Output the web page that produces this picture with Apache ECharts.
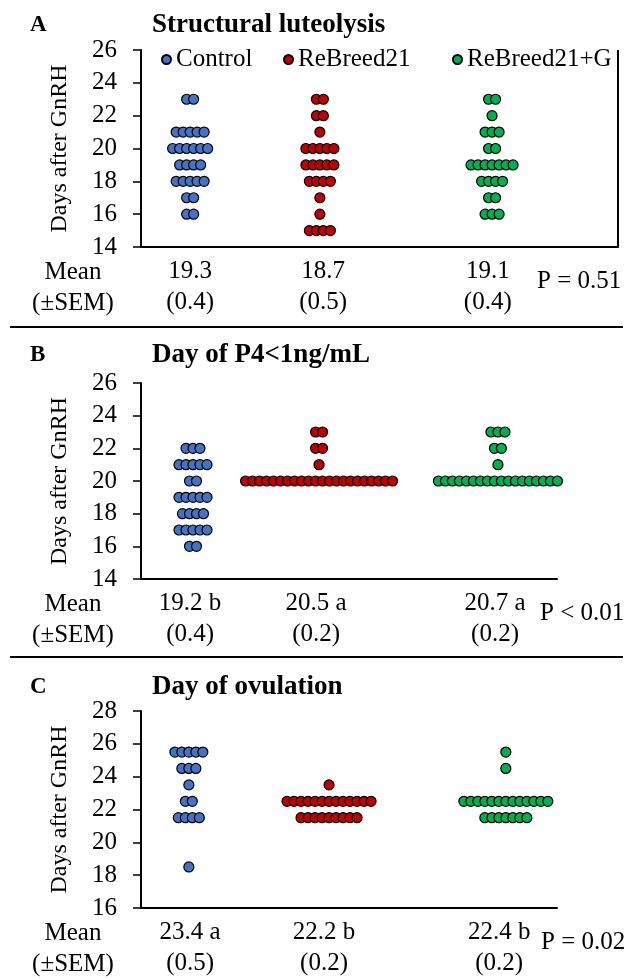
<!DOCTYPE html>
<html lang="en" style="height: 100%">
<head>
  <meta charset="utf-8">
</head>
<body style="height: 100%; margin: 0; background: #fff">
  <div id="container" style="width: 633px; height: 980px"></div>

  <script src="https://cdn.jsdelivr.net/npm/echarts@6/dist/echarts.min.js"></script>
  <script>
    // groups
    var groups = ['Control', 'ReBreed21', 'ReBreed21+G'];

    // A - structural luteolysis: number of cows on each day
    var aDays = [23, 22, 21, 20, 19, 18, 17, 16, 15];
    var aControl = [2, 0, 5, 6, 4, 5, 2, 2, 0];
    var aReBreed = [2, 2, 1, 5, 5, 4, 1, 1, 4];
    var aReBreedG = [2, 1, 3, 2, 7, 4, 2, 3, 0];
    var aMean = ['19.3', '18.7', '19.1'];
    var aSem = ['(0.4)', '(0.5)', '(0.4)'];
    var aP = 'P = 0.51';

    // B - day of P4<1ng/mL
    var bDays = [23, 22, 21, 20, 19, 18, 17, 16];
    var bControl = [0, 3, 5, 2, 5, 4, 5, 2];
    var bReBreed = [2, 2, 1, 22, 0, 0, 0, 0];
    var bReBreedG = [3, 2, 1, 18, 0, 0, 0, 0];
    var bMean = ['19.2 b', '20.5 a', '20.7 a'];
    var bSem = ['(0.4)', '(0.2)', '(0.2)'];
    var bP = 'P < 0.01';

    // C - day of ovulation
    var cDays = [25.5, 24.5, 23.5, 22.5, 21.5, 20.5, 19.5, 18.5];
    var cControl = [5, 3, 1, 2, 4, 0, 0, 1];
    var cReBreed = [0, 0, 1, 13, 9, 0, 0, 0];
    var cReBreedG = [1, 1, 0, 13, 7, 0, 0, 0];
    var cMean = ['23.4 a', '22.2 b', '22.4 b'];
    var cSem = ['(0.5)', '(0.2)', '(0.2)'];
    var cP = 'P = 0.02';

    var colors = ['#4472C4', '#C00000', '#00B050'];
    var FONT = "'Liberation Serif', 'Times New Roman', serif";
    var DOT_STEP = 7; // px between neighbouring dots in a row

    // layout of the three panels (pixels); group and label places are 0-100 of plot width
    var panels = [
      { letter: 'A', title: 'Structural luteolysis', days: aDays, counts: [aControl, aReBreed, aReBreedG],
        mean: aMean, sem: aSem, p: aP, yMin: 14, yMax: 26, titleY: 25, pX: 537,
        top: 50, height: 197, width: 477, xPos: [10.3, 37.5, 73.6], labelPos: [10.3, 38.2, 72.7] },
      { letter: 'B', title: 'Day of P4<1ng/mL', days: bDays, counts: [bControl, bReBreed, bReBreedG],
        mean: bMean, sem: bSem, p: bP, yMin: 14, yMax: 26, titleY: 355, pX: 540,
        top: 383, height: 196, width: 416, xPos: [12.5, 42.8, 85.8], labelPos: [11.8, 42.1, 85.1] },
      { letter: 'C', title: 'Day of ovulation', days: cDays, counts: [cControl, cReBreed, cReBreedG],
        mean: cMean, sem: cSem, p: cP, yMin: 16, yMax: 28, titleY: 687, pX: 541,
        top: 711, height: 197, width: 416, xPos: [11.5, 45.2, 87.7], labelPos: [11.8, 44.0, 86.1] }
    ];

    var grid = [], xAxis = [], yAxis = [], series = [], graphic = [];

    function swarm(days, counts, x) {
      var pts = [];
      days.forEach(function (d, i) {
        var n = counts[i];
        for (var k = 0; k < n; k++) {
          pts.push({ value: [x, d], symbolOffset: [(k - (n - 1) / 2) * DOT_STEP, 0] });
        }
      });
      return pts;
    }

    function txt(text, x, y, size, weight, align) {
      return {
        type: 'text', z: 10,
        style: {
          text: text, x: x, y: y, fill: '#000',
          fontSize: size, fontFamily: FONT, fontWeight: weight || 'normal',
          align: align || 'left', verticalAlign: 'middle',
          textAlign: align || 'left', textVerticalAlign: 'middle'
        }
      };
    }

    panels.forEach(function (p, pi) {
      grid.push({ left: 141, top: p.top, width: p.width, height: p.height });
      xAxis.push({
        type: 'value', gridIndex: pi, min: 0, max: 100,
        splitLine: { show: false },
        axisLine: { show: true, lineStyle: { color: '#000', width: 2 } },
        axisTick: { show: false },
        axisLabel: {
          customValues: p.labelPos,
          margin: 9,
          fontSize: 25, fontFamily: FONT, color: '#000', lineHeight: 31,
          formatter: function (v) {
            var g = p.labelPos.indexOf(v);
            return g < 0 ? '' : p.mean[g] + '\n' + p.sem[g];
          }
        }
      });
      yAxis.push({
        type: 'value', gridIndex: pi, min: p.yMin, max: p.yMax, interval: 2,
        name: 'Days after GnRH', nameLocation: 'middle', nameGap: 69,
        nameTextStyle: { fontSize: 24, fontFamily: FONT, color: '#000' },
        splitLine: { show: false },
        axisLine: { show: true, lineStyle: { color: '#000', width: 2 } },
        axisTick: { show: true, length: 8, lineStyle: { color: '#000', width: 1.5 } },
        axisLabel: { margin: 24, fontSize: 25, fontFamily: FONT, color: '#000' }
      });
      groups.forEach(function (g, gi) {
        series.push({
          name: g, type: 'scatter', xAxisIndex: pi, yAxisIndex: pi,
          symbol: 'circle', symbolSize: 10,
          itemStyle: { color: colors[gi], borderColor: '#000', borderWidth: 1.2, opacity: 1 },
          emphasis: { disabled: true },
          data: swarm(p.days, p.counts[gi], p.xPos[gi])
        });
      });

      var axisY = p.top + p.height;
      graphic.push(txt(p.letter, 30, p.titleY, 23, 'bold'));
      graphic.push(txt(p.title, 152, p.titleY, 27, 'bold'));
      graphic.push(txt('Mean', 73, axisY + 25, 25, 'normal', 'center'));
      graphic.push(txt('(\u00b1SEM)', 73, axisY + 56, 25, 'normal', 'center'));
      graphic.push(txt(p.p, p.pX, axisY + 34, 25));
    });

    // separators between panels and the right edge of panel A
    [327, 657].forEach(function (y) {
      graphic.push({ type: 'line', shape: { x1: 10, y1: y, x2: 623, y2: y }, style: { stroke: '#000', lineWidth: 2 } });
    });
    graphic.push({ type: 'line', shape: { x1: 618, y1: 50, x2: 618, y2: 247 }, style: { stroke: '#000', lineWidth: 2 } });

    // one legend block per group so each sits where the reference puts it
    var legendLeft = [156, 278, 447];
    var legend = groups.map(function (g, gi) {
      return {
        data: [g], left: legendLeft[gi], top: 42, icon: 'circle',
        itemWidth: 9, itemHeight: 9, selectedMode: false,
        textStyle: { fontSize: 25, fontFamily: FONT, color: '#000' }
      };
    });

    var myChart = echarts.init(document.getElementById('container'), null, { renderer: 'canvas' });
    var option = {
      backgroundColor: '#fff',
      animation: false,
      color: colors,
      legend: legend,
      grid: grid,
      xAxis: xAxis,
      yAxis: yAxis,
      series: series,
      graphic: graphic
    };
    myChart.setOption(option);
    window.addEventListener('resize', myChart.resize);
  </script>
</body>
</html>
